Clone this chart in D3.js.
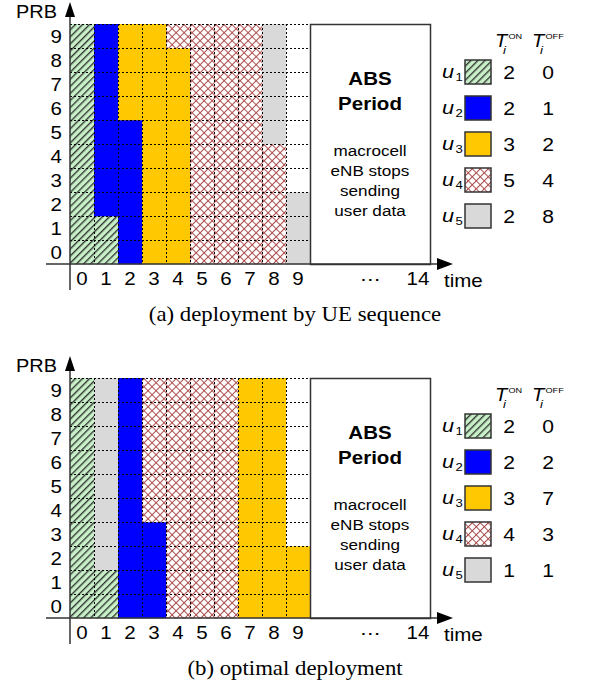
<!DOCTYPE html>
<html><head><meta charset="utf-8">
<script src="https://cdn.jsdelivr.net/npm/d3@7/dist/d3.min.js"></script>
<style>body{margin:0;background:#fff}svg{display:block}</style>
</head><body>
<svg id="c" width="599" height="684"></svg>
<script>
// ---------- data ----------
const users = ["1", "2", "3", "4", "5"];          // UE index u_i
const timeTicks = [0, 1, 2, 3, 4, 5, 6, 7, 8, 9];
const farTick = 14;
const prbTicks = [0, 1, 2, 3, 4, 5, 6, 7, 8, 9];
// PRB allocation per time slot, listed from PRB 0 (bottom) to PRB 9 (top); 0 = unused
const allocA = [
  [1,1,1,1,1,1,1,1,1,1],
  [1,1,2,2,2,2,2,2,2,2],
  [2,2,2,2,2,2,3,3,3,3],
  [3,3,3,3,3,3,3,3,3,3],
  [3,3,3,3,3,3,3,3,3,4],
  [4,4,4,4,4,4,4,4,4,4],
  [4,4,4,4,4,4,4,4,4,4],
  [4,4,4,4,4,4,4,4,4,4],
  [4,4,4,4,4,5,5,5,5,5],
  [5,5,5,0,0,0,0,0,0,0]
];
const allocB = [
  [1,1,1,1,1,1,1,1,1,1],
  [1,1,5,5,5,5,5,5,5,5],
  [2,2,2,2,2,2,2,2,2,2],
  [2,2,2,2,4,4,4,4,4,4],
  [4,4,4,4,4,4,4,4,4,4],
  [4,4,4,4,4,4,4,4,4,4],
  [4,4,4,4,4,4,4,4,4,4],
  [3,3,3,3,3,3,3,3,3,3],
  [3,3,3,3,3,3,3,3,3,3],
  [3,3,3,0,0,0,0,0,0,0]
];
const tOnA  = [2, 2, 3, 5, 2];
const tOffA = [0, 1, 2, 4, 8];
const tOnB  = [2, 2, 3, 4, 1];
const tOffB = [0, 2, 7, 3, 1];
const captions = ["(a) deployment by UE sequence", "(b) optimal deployment"];
const absTitle = ["ABS", "Period"];
const absLines = ["macrocell", "eNB stops", "sending", "user data"];

// ---------- drawing ----------
const svg = d3.select("#c");
const defs = svg.append("defs");
const SANS = "Liberation Sans, Arial, sans-serif";
const SERIF = "Liberation Serif, Times New Roman, serif";
const SX = 1.14; // horizontal text stretch seen in the reference

function txt(parent, x, y, s, size, o = {}) {
  return parent.append("text")
    .attr("transform", `translate(${x},${y}) scale(${SX},1)`)
    .attr("text-anchor", o.anchor || "start")
    .attr("font-family", o.family || SANS)
    .attr("font-size", size)
    .attr("font-weight", o.weight || "normal")
    .attr("font-style", o.style || "normal")
    .attr("fill", "#000").text(s);
}

const pg = defs.append("pattern").attr("id", "pGreen").attr("patternUnits", "userSpaceOnUse")
  .attr("width", 5).attr("height", 5).attr("patternTransform", "rotate(45)");
pg.append("rect").attr("width", 5).attr("height", 5).attr("fill", "#c8f0c8");
pg.append("line").attr("x1", 0.7).attr("y1", 0).attr("x2", 0.7).attr("y2", 5)
  .attr("stroke", "#2b2b2b").attr("stroke-width", 1.3);

const pc = defs.append("pattern").attr("id", "pCross").attr("patternUnits", "userSpaceOnUse")
  .attr("width", 5.66).attr("height", 5.66).attr("patternTransform", "rotate(45)");
pc.append("rect").attr("width", 5.66).attr("height", 5.66).attr("fill", "#ffffff");
pc.append("line").attr("x1", 0.5).attr("y1", 0).attr("x2", 0.5).attr("y2", 5.66)
  .attr("stroke", "#aa4c4c").attr("stroke-width", 1);
pc.append("line").attr("x1", 0).attr("y1", 0.5).attr("x2", 5.66).attr("y2", 0.5)
  .attr("stroke", "#aa4c4c").attr("stroke-width", 1);

const fills = {0: "#ffffff", 1: "url(#pGreen)", 2: "#0000ff", 3: "#ffc800", 4: "url(#pCross)", 5: "#d9d9d9"};

function panel(oy, alloc, tOn, tOff, caption) {
  const g = svg.append("g").attr("transform", `translate(0,${oy})`);
  const x = d3.scaleLinear().domain([0, 15]).range([70, 430]);
  const y = d3.scaleLinear().domain([0, 10]).range([264, 24]);
  const cw = x(1) - x(0), ch = y(0) - y(1);

  // cells
  const cells = [];
  alloc.forEach((col, t) => col.forEach((u, p) => cells.push({t, p, u})));
  g.append("g").selectAll("rect").data(cells).join("rect")
    .attr("x", d => x(d.t)).attr("y", d => y(d.p + 1))
    .attr("width", cw + 0.3).attr("height", ch + 0.3)
    .attr("fill", d => fills[d.u]);

  // dotted grid
  const grid = g.append("g").attr("stroke", "#000").attr("stroke-width", 1)
    .attr("stroke-dasharray", "2,2");
  d3.range(1, 11).forEach(i => {
    grid.append("line").attr("x1", x(0)).attr("x2", x(10)).attr("y1", y(i) + 0.5).attr("y2", y(i) + 0.5);
  });
  d3.range(1, 10).forEach(i => {
    grid.append("line").attr("x1", x(i) + 0.5).attr("x2", x(i) + 0.5).attr("y1", y(10)).attr("y2", y(0));
  });

  // ABS box
  g.append("rect").attr("x", x(10) + 0.5).attr("y", y(10) + 0.5)
    .attr("width", x(15) - x(10)).attr("height", y(0) - y(10))
    .attr("fill", "#fff").attr("stroke", "#333").attr("stroke-width", 1.5);
  const cx = (x(10) + x(15)) / 2;
  absTitle.forEach((s, i) => txt(g, cx, 85 + i * 25, s, 18, {anchor: "middle", weight: "bold"}));
  absLines.forEach((s, i) => txt(g, cx, 156 + i * 20, s, 15, {anchor: "middle"}));

  // axes
  const ax = g.append("g").attr("stroke", "#333").attr("stroke-width", 1.5).attr("fill", "none");
  ax.append("line").attr("x1", 46).attr("x2", 440).attr("y1", y(0)).attr("y2", y(0));
  ax.append("line").attr("x1", x(0)).attr("x2", x(0)).attr("y1", 290).attr("y2", 12);
  g.append("path").attr("d", `M437,${y(0) - 6}L453,${y(0)}L437,${y(0) + 6}Z`).attr("fill", "#000");
  g.append("path").attr("d", `M${x(0) - 5},17L${x(0)},2L${x(0) + 5},17Z`).attr("fill", "#000");

  // tick labels
  prbTicks.forEach(d => txt(g, 62, y(d + 0.5) + 6.5, d, 18, {anchor: "end"}));
  timeTicks.concat([farTick]).forEach(d => txt(g, x(d + 0.5), 285, d, 18, {anchor: "middle"}));
  txt(g, x(12.5), 285, "\u22EF", 18, {anchor: "middle"});
  txt(g, 444, 287, "time", 18);
  txt(g, 16, 18, "PRB", 17.5);

  // legend header
  [{x: 495, sup: "ON"}, {x: 532, sup: "OFF"}].forEach(h => {
    txt(g, h.x, 47, "T", 17.5, {style: "italic"});
    txt(g, h.x + 8, 54, "i", 11.5, {style: "italic"});
    txt(g, h.x + 13.5, 39, h.sup, 8);
  });
  // legend rows
  users.forEach((u, i) => {
    const cy = y(10) + 48 + i * 36;
    txt(g, 442, cy + 6, "u", 19, {style: "italic"});
    txt(g, 455.5, cy + 9, u, 11.5);
    g.append("rect").attr("x", 465).attr("y", cy - 12).attr("width", 26).attr("height", 24)
      .attr("fill", fills[i + 1]).attr("stroke", "#333").attr("stroke-width", 1.5);
    txt(g, 509, cy + 7, tOn[i], 18.5, {anchor: "middle"});
    txt(g, 548, cy + 7, tOff[i], 18.5, {anchor: "middle"});
  });

  // caption
  txt(g, 295, 321, caption, 20, {anchor: "middle", family: SERIF});
}

panel(0, allocA, tOnA, tOffA, captions[0]);
panel(354, allocB, tOnB, tOffB, captions[1]);
</script>
</body></html>
